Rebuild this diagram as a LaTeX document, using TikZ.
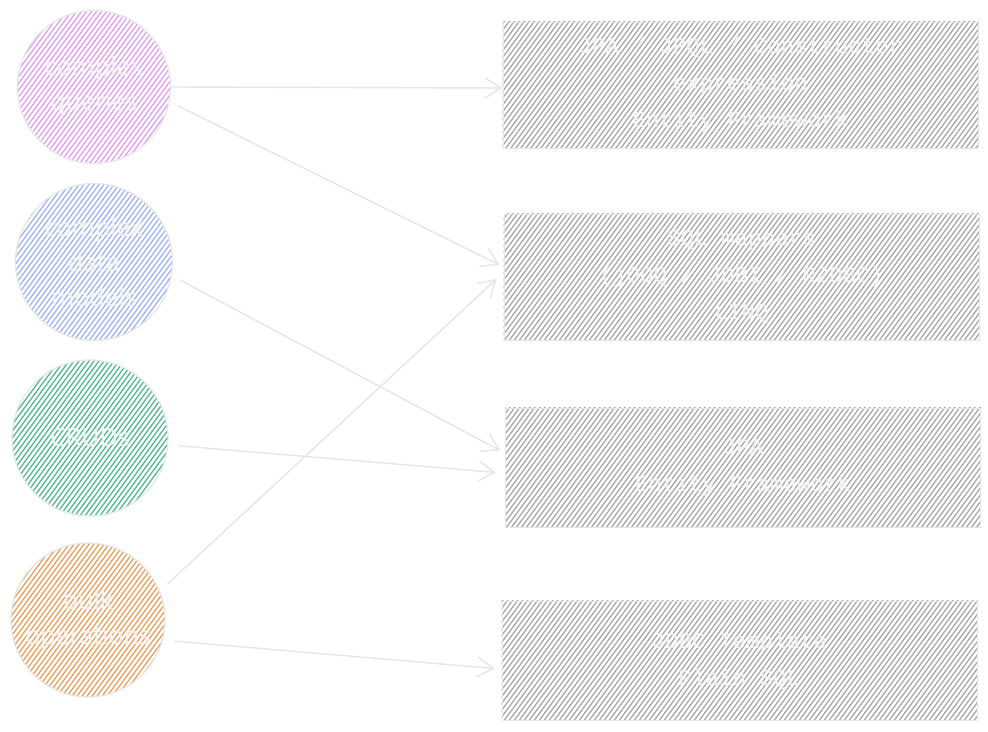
\documentclass[tikz,border=0pt]{standalone}
\usepackage{fontspec}
\setmainfont{Open Sans}
\newfontfamily\boxfont{Liberation Mono}
\usetikzlibrary{arrows.meta,calc,backgrounds}
\definecolor{edgegray}{HTML}{E6E6E6}
\definecolor{txtwhite}{HTML}{F2F2F2}
\definecolor{hpink}{HTML}{E29BF2}
\definecolor{hblue}{HTML}{9DB2FA}
\definecolor{hgreen}{HTML}{4DB890}
\definecolor{horange}{HTML}{EE9D58}
\definecolor{hgray}{HTML}{A6A6A6}
\tikzset{
  topic/.style={circle, draw=edgegray, line width=1.2pt, minimum size=#1, inner sep=0pt,
    align=center, text=txtwhite, font=\fontsize{25}{35}\selectfont},
  tool/.style={rectangle, draw=edgegray, line width=1pt, minimum width=475pt, minimum height=#1,
    inner sep=0pt, align=center, text=txtwhite, font=\boxfont\fontsize{22.5}{37}\selectfont},
  hatch/.style={line width=1.25pt},
  link/.style={draw=edgegray, line width=1.4pt, -{Straight Barb[length=16pt,width=20pt,line width=1.4pt]}},
}
\newcommand{\hatchlines}[4]{% xmin, xmax, color, step
  \foreach \i in {#1,\the\numexpr#1+#4\relax,...,#2}
    \draw[hatch,#3] (\i,760) -- ++(560,-760);
}
\begin{document}
\begin{tikzpicture}[x=1pt,y=-1pt]
\useasboundingbox (0,0) rectangle (988,731);
% topic circles
\node[topic=153pt] (c1) at (94,87) {complex\\queries};
\node[topic=157pt] (c2) at (94,262) {complex\\data\\models};
\node[topic=156pt] (c3) at (90,438) {CRUDs};
\node[topic=154pt] (c4) at (88,620) {bulk\\operations};
% tool boxes
\node[tool=126pt] (b1) at (740.5,85) {JPA / JPQL / Constructor\\expression\\Entity Framework};
\node[tool=126pt] (b2) at (741.5,277) {SQL mappers\\(jOOQ / JDBI / R2DBC)\\LINQ};
\node[tool=119pt] (b3) at (743,467.5) {JPA\\Entity Framework};
\node[tool=119pt] (b4) at (739.5,660.5) {JDBC Template\\Plain SQL};
% hachure fills
\begin{scope}[on background layer]
  \fill[white] (0,0) rectangle (988,731);
  \begin{scope}\clip (c1) circle (76pt); \hatchlines{-580}{180}{hpink}{5}\end{scope}
  \begin{scope}\clip (c2) circle (78pt); \hatchlines{-580}{180}{hblue}{5}\end{scope}
  \begin{scope}\clip (c3) circle (78pt); \hatchlines{-580}{180}{hgreen}{5}\end{scope}
  \begin{scope}\clip (c4) circle (77pt); \hatchlines{-580}{180}{horange}{5}\end{scope}
  \begin{scope}\clip (b1.south west) rectangle (b1.north east); \hatchlines{-60}{990}{hgray}{5}\end{scope}
  \begin{scope}\clip (b2.south west) rectangle (b2.north east); \hatchlines{-60}{990}{hgray}{5}\end{scope}
  \begin{scope}\clip (b3.south west) rectangle (b3.north east); \hatchlines{-60}{990}{hgray}{5}\end{scope}
  \begin{scope}\clip (b4.south west) rectangle (b4.north east); \hatchlines{-60}{990}{hgray}{5}\end{scope}
\end{scope}
% connectors
\draw[link] (c1.east) -- ($(b1.west)+(0,3)$);
\draw[link, shorten <=9pt] (c1.-11) -- ($(b2.west)+(-4,-12)$);
\draw[link, shorten <=9pt] (c2.-10) -- ($(b3.west)+(-5,-17)$);
\draw[link, shorten <=10pt] (c3.-5) -- ($(b3.west)+(-9,5)$);
\draw[link, shorten <=10pt] (c4.22) -- ($(b2.west)+(-7,2)$);
\draw[link, shorten <=12pt] (c4.-15) -- ($(b4.west)+(-7,8)$);
\end{tikzpicture}
\end{document}
